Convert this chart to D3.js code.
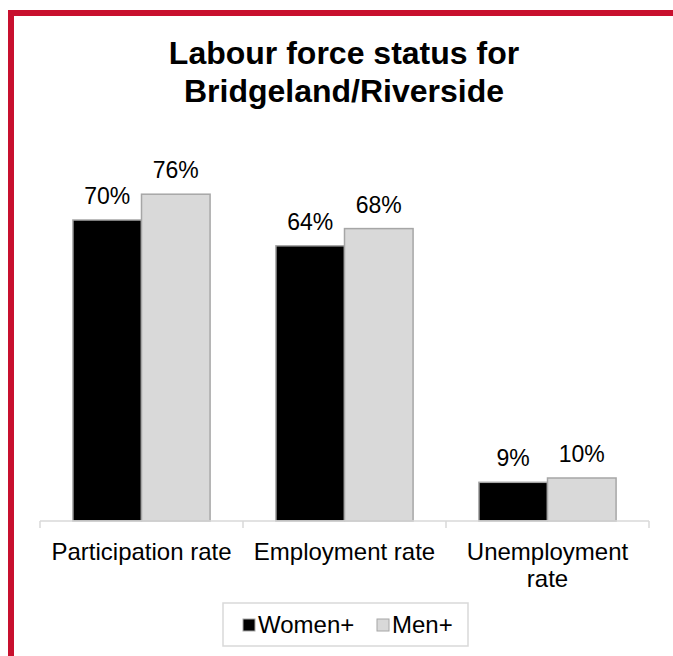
<!DOCTYPE html>
<html>
<head>
<meta charset="utf-8">
<script src="https://cdn.jsdelivr.net/npm/d3@7"></script>
<style>
    body { margin: 0; background: #fff; }
    text { font-family: "Liberation Sans", Arial, sans-serif; fill: #000; }
</style>
</head>
<body>
<svg id="chart" width="673" height="656"></svg>
<script>
// дані
const categories = [["Participation rate"], ["Employment rate"], ["Unemployment", "rate"]];
const series = ["Women+", "Men+"];
const women = [0.70, 0.64, 0.09];
const men = [0.76, 0.68, 0.10];
const titleLines = ["Labour force status for", "Bridgeland/Riverside"];

const colors = { "Women+": "#000000", "Men+": "#d9d9d9" };
const svg = d3.select("#chart");

// червона рамка зліва і зверху
svg.append("rect").attr("x", 8).attr("y", 10).attr("width", 665).attr("height", 6).attr("fill", "#c8102e");
svg.append("rect").attr("x", 8).attr("y", 10).attr("width", 6).attr("height", 646).attr("fill", "#c8102e");

// заголовок
svg.selectAll(".title")
    .data(titleLines)
    .enter().append("text")
    .attr("class", "title")
    .attr("x", 344).attr("y", (d, i) => 64 + i * 38)
    .attr("text-anchor", "middle")
    .style("font-size", "32px").style("font-weight", "bold")
    .text(d => d);

const baseY = 521;
const x0 = d3.scaleBand().domain(d3.range(categories.length)).range([40, 649]);
const x1 = d3.scaleBand().domain(series).range([0, x0.bandwidth()]).paddingOuter(0.48);
const y = d3.scaleLinear().domain([0, 0.8]).range([baseY, 177]);

const rows = categories.map((c, i) => ({ i, values: [women[i], men[i]] }));

const groups = svg.selectAll(".group")
    .data(rows)
    .enter().append("g")
    .attr("transform", d => `translate(${x0(d.i)},0)`);

groups.selectAll("rect")
    .data(d => d.values.map((v, k) => ({ key: series[k], v })))
    .enter().append("rect")
    .attr("x", d => x1(d.key))
    .attr("y", d => y(d.v))
    .attr("width", x1.bandwidth())
    .attr("height", d => baseY - y(d.v))
    .attr("fill", d => colors[d.key])
    .attr("stroke", "#a6a6a6").attr("stroke-width", 1.5);

groups.selectAll(".val")
    .data(d => d.values.map((v, k) => ({ key: series[k], v })))
    .enter().append("text")
    .attr("x", d => x1(d.key) + x1.bandwidth() / 2)
    .attr("y", d => y(d.v) - 16)
    .attr("text-anchor", "middle")
    .style("font-size", "23px")
    .text(d => d3.format(".0%")(d.v));

// вісь X
svg.append("line")
    .attr("x1", 40).attr("x2", 649).attr("y1", baseY).attr("y2", baseY)
    .attr("stroke", "#d9d9d9").attr("stroke-width", 1.5);
d3.range(categories.length + 1).forEach(i => {
    const tx = 40 + i * x0.step();
    svg.append("line")
        .attr("x1", tx).attr("x2", tx).attr("y1", baseY).attr("y2", baseY + 7)
        .attr("stroke", "#d9d9d9").attr("stroke-width", 1.5);
});

const catText = svg.selectAll(".cat")
    .data(categories)
    .enter().append("text")
    .attr("text-anchor", "middle")
    .style("font-size", "24px")
    .attr("transform", (d, i) => `translate(${x0(i) + x0.bandwidth() / 2},560)`);
catText.selectAll("tspan")
    .data(d => d)
    .enter().append("tspan")
    .attr("x", 0).attr("y", (d, i) => i * 27)
    .text(d => d);

// легенда
svg.append("rect")
    .attr("x", 223).attr("y", 603).attr("width", 245).attr("height", 43)
    .attr("fill", "none").attr("stroke", "#d9d9d9").attr("stroke-width", 1.5);
const legendX = [243, 377];
series.forEach((s, i) => {
    svg.append("rect")
        .attr("x", legendX[i]).attr("y", 619).attr("width", 12).attr("height", 12)
        .attr("fill", colors[s]).attr("stroke", "#a6a6a6").attr("stroke-width", 1);
    svg.append("text")
        .attr("x", legendX[i] + 15).attr("y", 633)
        .style("font-size", "24px")
        .text(s);
});
</script>
</body>
</html>
